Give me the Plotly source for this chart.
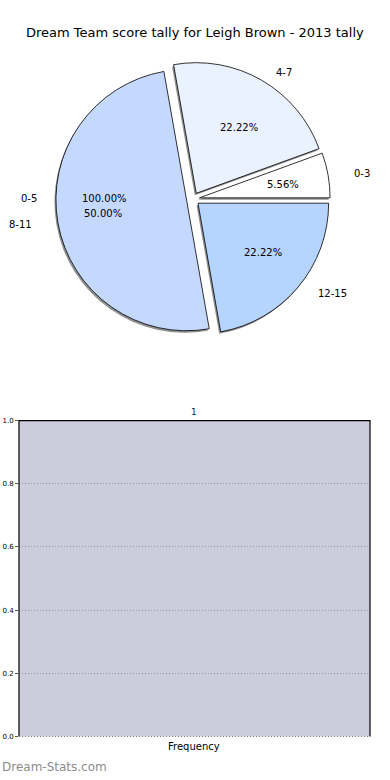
import math
import plotly.graph_objects as go

# ---- data ----
score_ranges = ["0-3", "4-7", "8-11", "12-15"]
score_counts = [1, 4, 9, 4]
slice_colors = ["#ffffff", "#eaf1ff", "#c5d9ff", "#b5d5ff"]
ghost_label = "0-5"
ghost_pct = "100.00%"
bar_title = "1"
bar_xlabel = "Frequency"
freq_categories = []
freq_values = []
y_ticks = [0.0, 0.2, 0.4, 0.6, 0.8, 1.0]

W, H = 390, 780
def px(x):
    return x / W
def py(y):
    return 1 - y / H

# pie geometry (pixels)
cx, cy = 193, 197
r = 132
pull = 0.05
dom = r * (1 + pull)
total = sum(score_counts)
# plotly counterclockwise: first slice ends at rotation; make it start at 3 o'clock
rot = 90 - 360 * score_counts[0] / total

fig = go.Figure()

# shadow
fig.add_trace(go.Pie(
    labels=score_ranges, values=score_counts, sort=False, direction="counterclockwise",
    rotation=rot, pull=[pull] * len(score_counts), textinfo="none", hoverinfo="skip",
    marker=dict(colors=["rgba(70,70,70,0.6)"] * 4, line=dict(width=0)),
    domain=dict(x=[px(cx - dom - 1.5), px(cx + dom - 1.5)], y=[py(cy + dom + 2), py(cy - dom + 2)]),
    showlegend=False,
))
fig.add_trace(go.Pie(
    labels=score_ranges, values=score_counts, sort=False, direction="counterclockwise",
    rotation=rot, pull=[pull] * len(score_counts), textinfo="none",
    marker=dict(colors=slice_colors, line=dict(color="black", width=0.8)),
    domain=dict(x=[px(cx - dom), px(cx + dom)], y=[py(cy + dom), py(cy - dom)]),
    showlegend=False,
))

# empty frequency chart
fig.add_trace(go.Bar(x=freq_categories, y=freq_values, xaxis="x", yaxis="y",
                     marker_color="#ccccdd", showlegend=False))

annotations = []
# pie texts (matplotlib-like placement, elliptical radii)
rx, ry = 140, 128
start = 0.0
for lab, v in zip(score_ranges, score_counts):
    frac = v / total
    theta = math.radians(360 * (start + frac / 2))
    ex, ey = cx + 7 * math.cos(theta), cy - 7 * math.sin(theta)
    tx, ty = ex + 0.6 * rx * math.cos(theta), ey - 0.6 * ry * math.sin(theta)
    lx, ly = ex + 1.1 * rx * math.cos(theta), ey - 1.1 * ry * math.sin(theta)
    annotations.append(dict(x=px(tx), y=py(ty), text=f"{frac*100:.2f}%", showarrow=False,
                            xref="paper", yref="paper", xanchor="center", yanchor="middle",
                            font=dict(size=10, color="black")))
    annotations.append(dict(x=px(lx), y=py(ly), text=lab, showarrow=False,
                            xref="paper", yref="paper",
                            xanchor="left" if math.cos(theta) > 0 else "right", yanchor="middle",
                            font=dict(size=10, color="black")))
    start += frac

annotations.append(dict(x=px(cx - 1.1 * rx), y=py(cy), text=ghost_label, showarrow=False,
                        xref="paper", yref="paper", xanchor="right", yanchor="middle",
                        font=dict(size=10, color="black")))
annotations.append(dict(x=px(cx - 0.6 * rx - 5), y=py(cy), text=ghost_pct, showarrow=False,
                        xref="paper", yref="paper", xanchor="center", yanchor="middle",
                        font=dict(size=10, color="black")))

annotations += [
    dict(x=0.5, y=py(29), text="Dream Team score tally for Leigh Brown - 2013 tally",
         showarrow=False, xref="paper", yref="paper", xanchor="center", yanchor="middle",
         font=dict(size=13, color="black")),
    dict(x=px(194), y=py(412), text=bar_title, showarrow=False, xref="paper", yref="paper",
         xanchor="center", yanchor="middle", font=dict(size=9, color="#222")),
    dict(x=px(194), y=py(750), text=bar_xlabel, showarrow=False, xref="paper", yref="paper",
         xanchor="center", yanchor="middle", font=dict(size=10, color="black")),
    dict(x=0, y=py(771), text="Dream-Stats.com", showarrow=False, xref="paper", yref="paper",
         xanchor="left", yanchor="middle", font=dict(size=12, color="#8c8c8c")),
]

fig.update_layout(
    width=W, height=H, margin=dict(l=0, r=0, t=0, b=0),
    paper_bgcolor="white", plot_bgcolor="#ccccdd",
    font=dict(family="DejaVu Sans", color="black"),
    annotations=annotations,
    xaxis=dict(domain=[px(19), px(370)], range=[0, 1], showticklabels=False, ticks="",
               showgrid=False, zeroline=False, showline=False, fixedrange=True),
    yaxis=dict(domain=[py(740), py(421)], range=[0, 1], tickvals=y_ticks,
               ticktext=[f"{t:.1f}" for t in y_ticks], ticks="outside", ticklen=3,
               tickwidth=1, tickcolor="#555", tickfont=dict(size=7, color="black"),
               showgrid=True, gridcolor="#999999", griddash="1px,2px", gridwidth=1,
               zeroline=False, showline=False, fixedrange=True),
    shapes=[
        dict(type="path", xref="x domain", yref="y domain",
             path="M 0 0 L 0 1 L 1 1 L 1 0", line=dict(color="black", width=1.2)),
        dict(type="line", xref="x domain", yref="y domain", x0=0, x1=1, y0=0, y1=0,
             line=dict(color="#777", width=1, dash="1px,2px")),
    ],
)

fig.write_html("out.html", config={"displayModeBar": False},
               post_script="document.body.style.margin='0';")
